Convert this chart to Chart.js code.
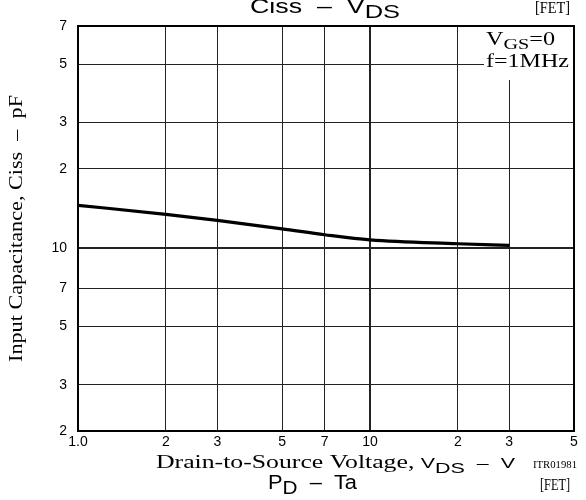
<!DOCTYPE html>
<html>
<head>
<meta charset="utf-8">
<title>Ciss - VDS</title>
<script src="https://cdn.jsdelivr.net/npm/chart.js@4.4.1/dist/chart.umd.min.js"></script>
<style>
  html, body { margin: 0; padding: 0; background: #fff; }
  canvas { display: block; }
</style>
</head>
<body>
<canvas id="ciss_chart" width="586" height="500"></canvas>
<script>
// input capacitance vs drain-source voltage (VGS = 0, f = 1MHz)
const vds = [1, 2, 3, 5, 7, 10, 20, 30];
const ciss = [14.5, 13.4, 12.7, 11.8, 11.2, 10.7, 10.35, 10.2];

// log axis ticks, labelled by mantissa only
const xTicks = [1, 2, 3, 5, 7, 10, 20, 30, 50];
const xTickLabels = ['1.0', '2', '3', '5', '7', '10', '2', '3', '5'];
const yTicks = [2, 3, 5, 7, 10, 20, 30, 50, 70];
const yTickLabels = ['2', '3', '5', '7', '10', '2', '3', '5', '7'];

const SANS = 'Liberation Sans';
const SERIF = 'Liberation Serif';

// draws a row of text pieces (for subscripts), squeezed to a given width
function drawRun(ctx, parts, x, y, width) {
  let total = 0;
  parts.forEach(p => {
    ctx.font = p.font;
    p.w = ctx.measureText(p.t).width;
    total += p.w;
  });
  const sx = width ? width / total : 1;
  ctx.save();
  ctx.translate(x, y);
  ctx.scale(sx, 1);
  let cx = 0;
  parts.forEach(p => {
    ctx.font = p.font;
    ctx.fillText(p.t, cx, p.dy || 0);
    cx += p.w;
  });
  ctx.restore();
}

const textPlugin = {
  id: 'sheetText',
  beforeDatasetsDraw(chart) {
    // white box behind the test conditions
    const ctx = chart.ctx;
    const a = chart.chartArea;
    ctx.save();
    ctx.fillStyle = '#fff';
    ctx.fillRect(484, a.top, a.right - 484, 80 - a.top);
    ctx.restore();
  },
  afterDraw(chart) {
    const ctx = chart.ctx;
    const a = chart.chartArea;
    ctx.save();
    ctx.strokeStyle = '#000';
    ctx.lineWidth = 2;
    ctx.strokeRect(a.left, a.top, a.right - a.left, a.bottom - a.top);

    ctx.fillStyle = '#000';
    ctx.textAlign = 'left';
    ctx.textBaseline = 'alphabetic';

    // titles
    drawRun(ctx, [
      { t: 'Ciss  \u2013  V', font: '20px ' + SANS },
      { t: 'DS', font: '19px ' + SANS, dy: 5 }
    ], 250, 13, 150);
    drawRun(ctx, [{ t: '[FET]', font: '16px ' + SERIF }], 535, 13, 35);

    // test conditions
    drawRun(ctx, [
      { t: 'V', font: '18px ' + SERIF },
      { t: 'GS', font: '15px ' + SERIF, dy: 4 },
      { t: '=0', font: '18px ' + SERIF }
    ], 486, 45, 69);
    drawRun(ctx, [{ t: 'f=1MHz', font: '18px ' + SERIF }], 486, 67, 83);

    // x axis title
    drawRun(ctx, [
      { t: 'Drain-to-Source Voltage, ', font: '18px ' + SERIF },
      { t: 'V', font: '15px ' + SANS },
      { t: 'DS', font: '15px ' + SANS, dy: 5 },
      { t: '  \u2013  V', font: '15px ' + SANS }
    ], 156, 468, 359);
    drawRun(ctx, [{ t: 'ITR01981', font: '11px ' + SERIF }], 533, 468, 44);

    // y axis title
    ctx.save();
    ctx.translate(22, 362);
    ctx.rotate(-Math.PI / 2);
    drawRun(ctx, [{ t: 'Input Capacitance, Ciss  \u2013  pF', font: '18px ' + SERIF }], 0, 0, 267);
    ctx.restore();

    // next chart heading below
    drawRun(ctx, [
      { t: 'P', font: '20px ' + SANS },
      { t: 'D', font: '19px ' + SANS, dy: 5 },
      { t: '  \u2013  Ta', font: '20px ' + SANS }
    ], 268, 489, 89);
    drawRun(ctx, [{ t: '[FET]', font: '16px ' + SERIF }], 540, 490, 30);
    ctx.restore();
  }
};

const gridWidth = c => (c.tick && c.tick.value === 10 ? 2 : 1);

new Chart(document.getElementById('ciss_chart'), {
  type: 'line',
  data: {
    datasets: [{
      data: vds.map((v, i) => ({ x: v, y: ciss[i] })),
      borderColor: '#000',
      borderWidth: 3.2,
      pointRadius: 0,
      cubicInterpolationMode: 'monotone',
      fill: false
    }]
  },
  options: {
    responsive: false,
    animation: false,
    layout: { padding: { left: 0, right: 12, top: 26, bottom: 0 } },
    plugins: {
      legend: { display: false },
      tooltip: { enabled: false },
      title: { display: false }
    },
    scales: {
      x: {
        type: 'logarithmic',
        min: 1,
        max: 50,
        afterBuildTicks: s => { s.ticks = xTicks.map(v => ({ value: v })); },
        afterFit: s => { s.height = 69; },
        ticks: {
          autoSkip: false,
          maxRotation: 0,
          padding: 3,
          color: '#000',
          font: { family: SANS, size: 14 },
          callback: (v, i) => xTickLabels[i]
        },
        grid: { color: '#222', lineWidth: gridWidth, drawTicks: false },
        border: { display: false }
      },
      y: {
        type: 'logarithmic',
        min: 2,
        max: 70,
        afterBuildTicks: s => { s.ticks = yTicks.map(v => ({ value: v })); },
        afterFit: s => { s.width = 78; },
        ticks: {
          autoSkip: false,
          padding: 11,
          color: '#000',
          font: { family: SANS, size: 14 },
          callback: (v, i) => yTickLabels[i]
        },
        grid: { color: '#222', lineWidth: gridWidth, drawTicks: false },
        border: { display: false }
      }
    }
  },
  plugins: [textPlugin]
});
</script>
</body>
</html>
